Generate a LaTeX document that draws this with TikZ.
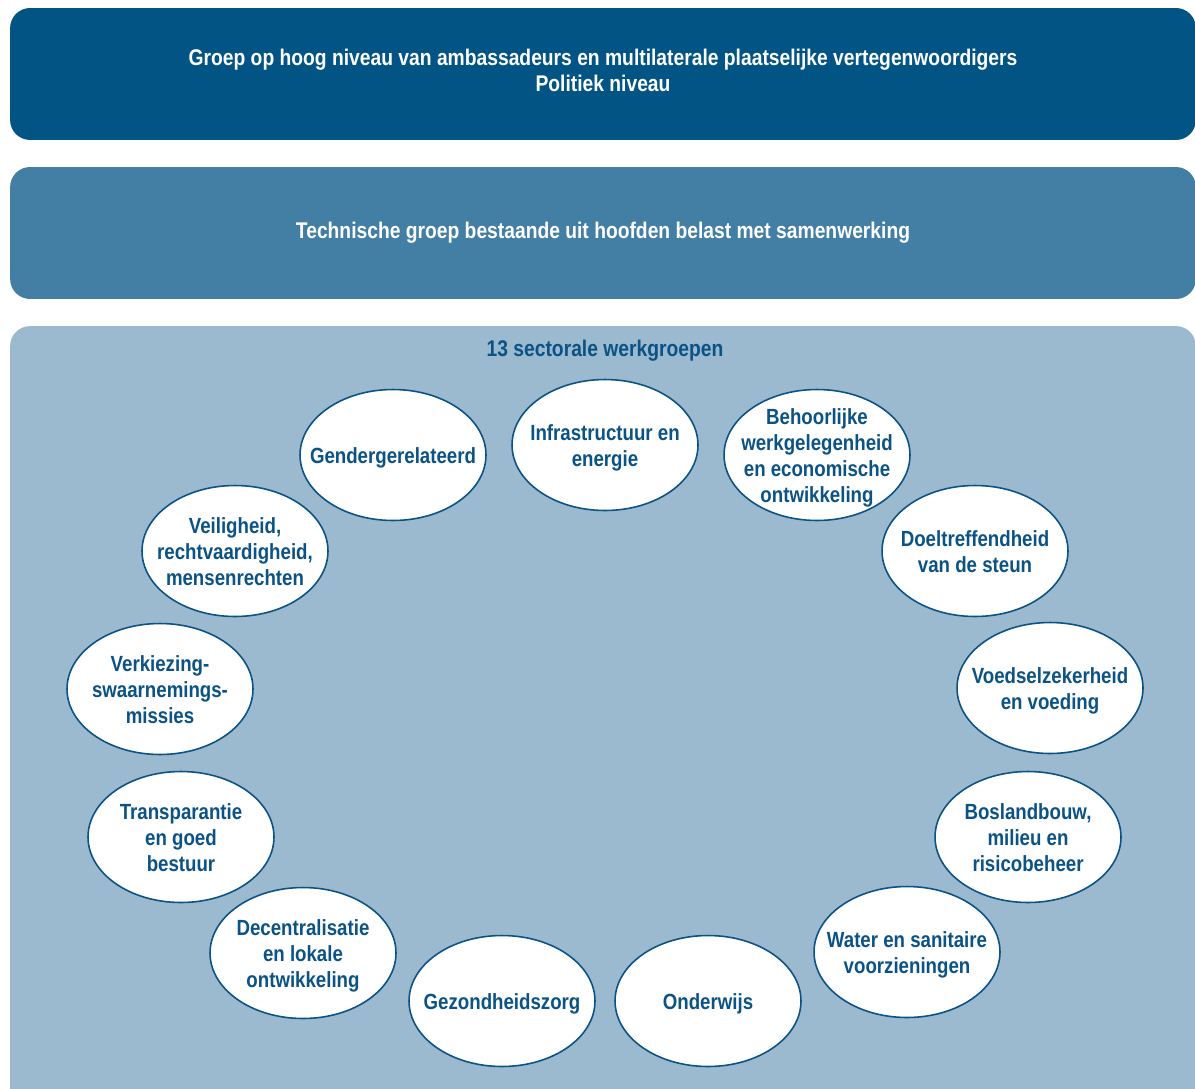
\documentclass[tikz,border=0pt]{standalone}
\usepackage{fontspec}
\setmainfont{Liberation Sans}[FakeStretch=0.85]
\usetikzlibrary{shapes.geometric}

\definecolor{polblue}{RGB}{2,84,133}
\definecolor{techblue}{RGB}{67,127,164}
\definecolor{sectblue}{RGB}{155,185,207}
\definecolor{wgblue}{RGB}{11,82,133}

% text of a werkgroep, kept out of the ellipse size
\newcommand{\wgtxt}[1]{\smash{\makebox[0pt]{\raisebox{-5pt}{\begin{tabular}{@{}c@{}}#1\end{tabular}}}}}

\begin{document}
\begin{tikzpicture}[x=0.02cm, y=-0.02cm,
                    band/.style={rectangle, rounded corners=0.4cm, minimum width=23.72cm,
                                 inner sep=0pt, text=white, align=center,
                                 font=\fontsize{12.9}{14.8}\selectfont\bfseries},
                    wg/.style={ellipse, draw=wgblue, fill=white, line width=0.9pt,
                               minimum width=3.72cm, minimum height=2.62cm, inner sep=0pt,
                               text=wgblue, font=\fontsize{12.5}{14.8}\selectfont\bfseries}
                   ]
\useasboundingbox (0,0) rectangle (1195,1088);

%levels
\node [band, fill=polblue, minimum height=2.64cm] (pol) at (603,74)
      {Groep op hoog niveau van ambassadeurs en multilaterale plaatselijke vertegenwoordigers\\
       Politiek niveau\rule[-4pt]{0pt}{1pt}};
\node [band, fill=techblue, minimum height=2.64cm] (tech) at (603,233)
      {Technische groep bestaande uit hoofden belast met samenwerking};
\node [band, fill=sectblue, minimum height=15.68cm] (sect) at (603,718) {};
\node [text=wgblue, font=\fontsize{12.9}{14.8}\selectfont\bfseries] (secttitle) at (605,351)
      {13 sectorale werkgroepen};

%werkgroepen
\node [wg] (infra)   at (605,445)  {\wgtxt{Infrastructuur en\\energie}};
\node [wg] (werk)    at (817,455)  {\wgtxt{Behoorlijke\\werkgelegenheid\\en economische\\ontwikkeling}};
\node [wg] (steun)   at (975,551)  {\wgtxt{Doeltreffendheid\\van de steun}};
\node [wg] (voedsel) at (1050,688) {\wgtxt{Voedselzekerheid\\en voeding}};
\node [wg] (bos)     at (1028,837) {\wgtxt{Boslandbouw,\\milieu en\\risicobeheer}};
\node [wg] (water)   at (907,952)  {\wgtxt{Water en sanitaire\\voorzieningen}};
\node [wg] (onderw)  at (708,1001) {\wgtxt{Onderwijs}};
\node [wg] (gezond)  at (502,1001) {\wgtxt{Gezondheidszorg}};
\node [wg] (decent)  at (303,953)  {\wgtxt{Decentralisatie\\en lokale\\ontwikkeling}};
\node [wg] (transp)  at (181,837)  {\wgtxt{Transparantie\\en goed\\bestuur}};
\node [wg] (verkiez) at (160,689)  {\wgtxt{Verkiezing-\\swaarnemings-\\missies}};
\node [wg] (veilig)  at (235,551)  {\wgtxt{Veiligheid,\\rechtvaardigheid,\\mensenrechten}};
\node [wg] (gender)  at (393,455)  {\wgtxt{Gendergerelateerd}};
\end{tikzpicture}
\end{document}
